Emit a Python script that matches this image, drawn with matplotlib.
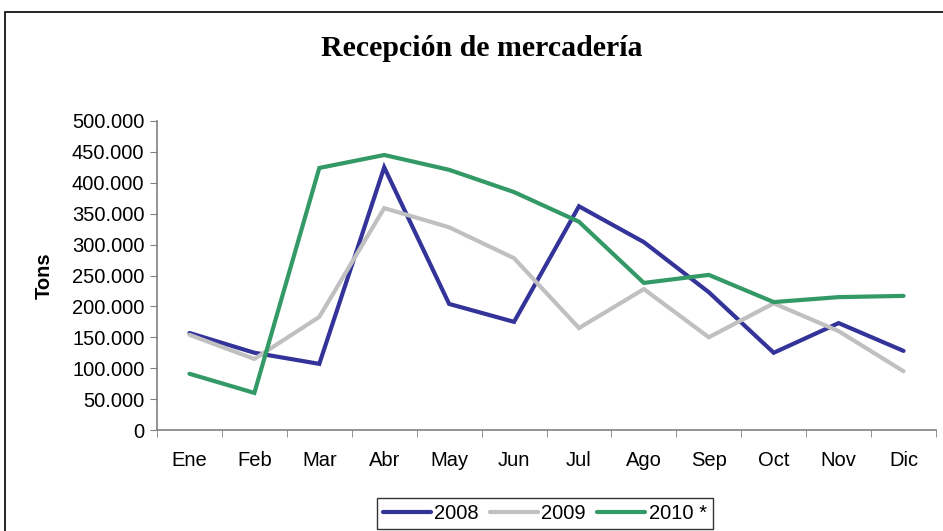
import matplotlib
matplotlib.use('agg')
import matplotlib.pyplot as plt
from matplotlib.patches import Rectangle
from matplotlib.ticker import FuncFormatter, MultipleLocator

# data (tons per month)
months = ["Ene", "Feb", "Mar", "Abr", "May", "Jun", "Jul", "Ago", "Sep", "Oct", "Nov", "Dic"]
tons_2008 = [157000, 125000, 107000, 425000, 204000, 175000, 362000, 304000, 223000, 125000, 173000, 128000]
tons_2009 = [154000, 115000, 183000, 359000, 328000, 278000, 165000, 228000, 150000, 205000, 160000, 95000]
tons_2010 = [91000, 60000, 424000, 445000, 421000, 385000, 337000, 238000, 251000, 207000, 215000, 217000]
series_names = ["2008", "2009", "2010 *"]
series_colors = ["#333399", "#C0C0C0", "#339966"]

plt.rcParams['font.family'] = ['Liberation Sans', 'DejaVu Sans']

fig = plt.figure(figsize=(9.43, 5.31), dpi=100)

# outer chart border (right and bottom edges fall outside the picture)
fig.patches.append(Rectangle((4.5/943, -0.1), 1.2, 1 - 11.5/531 + 0.1, transform=fig.transFigure,
                             fill=False, edgecolor='black', linewidth=1.2))

ax = fig.add_axes([157/943, 1 - 430/531, 779/943, 309/531])

x = list(range(len(months)))
for vals, name, col in zip([tons_2008, tons_2009, tons_2010], series_names, series_colors):
    ax.plot(x, vals, color=col, linewidth=3, label=name, solid_capstyle='round', solid_joinstyle='miter')

ax.set_xlim(-0.5, len(months) - 0.5)
ax.set_ylim(0, 500000)
ax.yaxis.set_major_locator(MultipleLocator(50000))
ax.yaxis.set_major_formatter(FuncFormatter(lambda v, p: f"{int(v):,}".replace(",", ".")))

ax.set_xticks(x)
ax.set_xticklabels(months)
ax.set_xticks([i - 0.5 for i in range(len(months) + 1)], minor=True)
ax.tick_params(axis='x', which='major', length=0, pad=15, labelsize=14.5)
ax.tick_params(axis='x', which='minor', length=5, color='#808080', direction='out')
ax.tick_params(axis='y', length=5, color='#808080', direction='out', labelsize=14.5, pad=4)

for s in ['top', 'right']:
    ax.spines[s].set_visible(False)
for s in ['left', 'bottom']:
    ax.spines[s].set_color('#808080')
    ax.spines[s].set_linewidth(1.2)

ax.set_ylabel("Tons", fontsize=14.5, fontweight='bold')
ax.yaxis.set_label_coords(-0.132, 0.5)

fig.text(482/943, 1 - 48/531, "Recepción de mercadería", ha='center', va='center',
         fontsize=21.5, fontweight='bold', family=['Liberation Serif', 'DejaVu Serif'])

leg = fig.legend(loc='upper left', bbox_to_anchor=(377/943, 1 - 498/531), ncol=3,
                 fontsize=14.5, frameon=True, fancybox=False, edgecolor='black',
                 handlelength=2.4, handletextpad=0.15, columnspacing=0.55, borderpad=0.3,
                 borderaxespad=0)
leg.get_frame().set_linewidth(1.0)

fig.savefig("out.png", dpi=100)
